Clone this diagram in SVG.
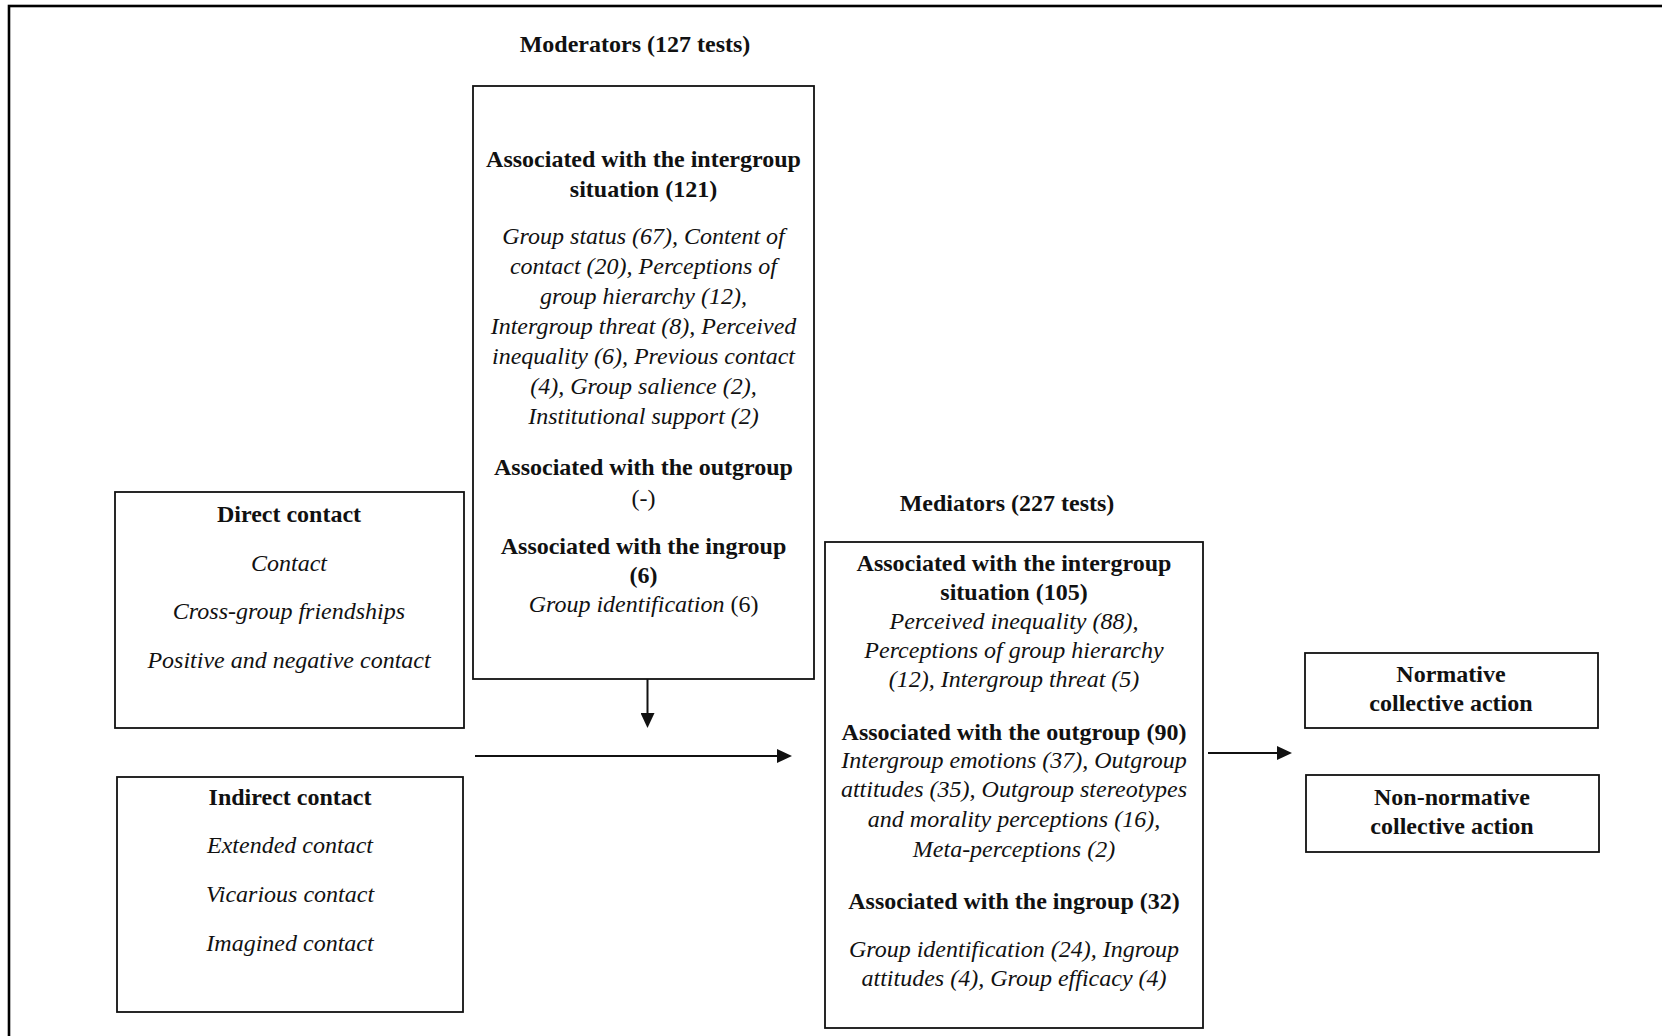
<svg xmlns="http://www.w3.org/2000/svg" width="1662" height="1036" viewBox="0 0 1662 1036">
  <style>
    text { font-family: "Liberation Serif", "Times New Roman", serif; font-size: 24px; fill: #111; text-anchor: middle; }
    .b { font-weight: bold; }
    .i { font-style: italic; }
    .box { fill: #fff; stroke: #111; stroke-width: 1.8; }
    .conn { stroke: #111; stroke-width: 2; fill: none; }
  </style>
  <defs>
    <marker id="arrow" markerUnits="userSpaceOnUse" markerWidth="15" markerHeight="14" refX="7" refY="7" orient="auto">
      <path d="M0,0 L15,7 L0,14 Z" fill="#111"/>
    </marker>
  </defs>
  <rect x="0" y="0" width="1662" height="1036" fill="#fff"/>
  <rect x="9" y="6" width="1700" height="1100" fill="none" stroke="#000" stroke-width="2.6"/>

  <g id="title-moderators">
    <text class="b" x="635" y="52">Moderators (127 tests)</text>
  </g>

  <g id="moderators">
    <rect class="box" x="473" y="86" width="341" height="593"/>
    <text class="b" x="643.5" y="167">Associated with the intergroup</text>
    <text class="b" x="643.5" y="197">situation (121)</text>
    <text class="i" x="643.5" y="244">Group status (67), Content of</text>
    <text class="i" x="643.5" y="274">contact (20), Perceptions of</text>
    <text class="i" x="643.5" y="304">group hierarchy (12),</text>
    <text class="i" x="643.5" y="334">Intergroup threat (8), Perceived</text>
    <text class="i" x="643.5" y="364">inequality (6), Previous contact</text>
    <text class="i" x="643.5" y="394">(4), Group salience (2),</text>
    <text class="i" x="643.5" y="424">Institutional support (2)</text>
    <text class="b" x="643.5" y="475">Associated with the outgroup</text>
    <text x="643.5" y="506">(-)</text>
    <text class="b" x="643.5" y="554">Associated with the ingroup</text>
    <text class="b" x="643.5" y="583">(6)</text>
    <text x="643.5" y="612"><tspan class="i">Group identification</tspan> (6)</text>
  </g>

  <g id="direct-contact">
    <rect class="box" x="115" y="492" width="349" height="236"/>
    <text class="b" x="289" y="522">Direct contact</text>
    <text class="i" x="289" y="571">Contact</text>
    <text class="i" x="289" y="619">Cross-group friendships</text>
    <text class="i" x="289" y="668">Positive and negative contact</text>
  </g>

  <g id="indirect-contact">
    <rect class="box" x="117" y="777" width="346" height="235"/>
    <text class="b" x="290" y="805">Indirect contact</text>
    <text class="i" x="290" y="853">Extended contact</text>
    <text class="i" x="290" y="902">Vicarious contact</text>
    <text class="i" x="290" y="951">Imagined contact</text>
  </g>

  <g id="title-mediators">
    <text class="b" x="1007" y="511">Mediators (227 tests)</text>
  </g>

  <g id="mediators">
    <rect class="box" x="825" y="542" width="378" height="486"/>
    <text class="b" x="1014" y="571">Associated with the intergroup</text>
    <text class="b" x="1014" y="600">situation (105)</text>
    <text class="i" x="1014" y="629">Perceived inequality (88),</text>
    <text class="i" x="1014" y="658">Perceptions of group hierarchy</text>
    <text class="i" x="1014" y="687">(12), Intergroup threat (5)</text>
    <text class="b" x="1014" y="740">Associated with the outgroup (90)</text>
    <text class="i" x="1014" y="768">Intergroup emotions (37), Outgroup</text>
    <text class="i" x="1014" y="797">attitudes (35), Outgroup stereotypes</text>
    <text class="i" x="1014" y="827">and morality perceptions (16),</text>
    <text class="i" x="1014" y="857">Meta-perceptions (2)</text>
    <text class="b" x="1014" y="909">Associated with the ingroup (32)</text>
    <text class="i" x="1014" y="957">Group identification (24), Ingroup</text>
    <text class="i" x="1014" y="986">attitudes (4), Group efficacy (4)</text>
  </g>

  <g id="normative">
    <rect class="box" x="1305" y="653" width="293" height="75"/>
    <text class="b" x="1451" y="682">Normative</text>
    <text class="b" x="1451" y="711">collective action</text>
  </g>

  <g id="non-normative">
    <rect class="box" x="1306" y="775" width="293" height="77"/>
    <text class="b" x="1452" y="805">Non-normative</text>
    <text class="b" x="1452" y="834">collective action</text>
  </g>

  <g id="connectors">
    <line class="conn" x1="647.5" y1="679" x2="647.5" y2="720" marker-end="url(#arrow)"/>
    <line class="conn" x1="475" y1="756" x2="784" y2="756" marker-end="url(#arrow)"/>
    <line class="conn" x1="1208" y1="753" x2="1284" y2="753" marker-end="url(#arrow)"/>
  </g>
</svg>
